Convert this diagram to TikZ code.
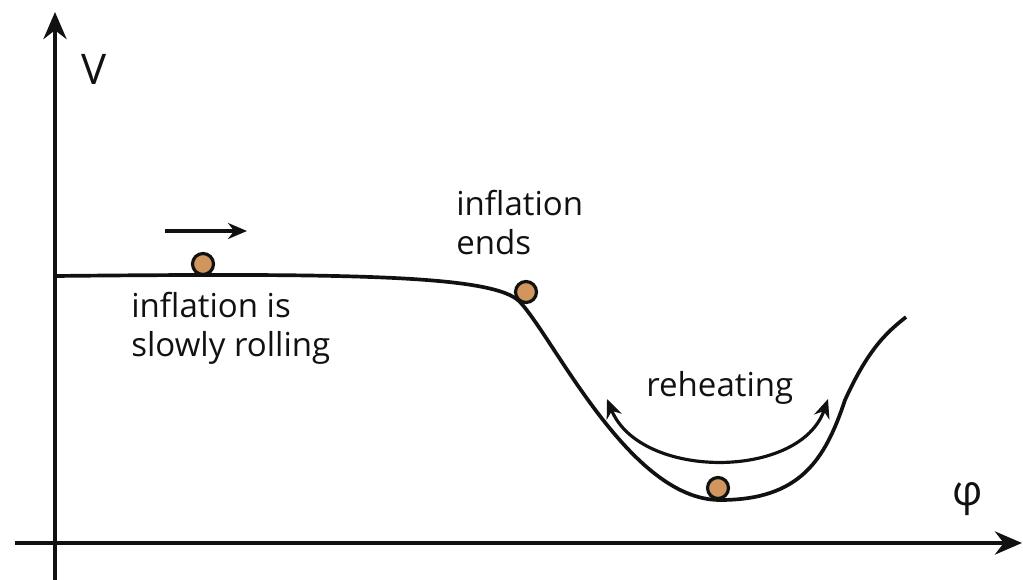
\documentclass[tikz,border=0pt]{standalone}
\usepackage{fontspec}
\setmainfont{Open Sans}
\usetikzlibrary{arrows.meta,positioning,calc}
\definecolor{cBallF}{HTML}{D0965E}
\definecolor{cInk}{HTML}{111111}
\tikzset{
  axis/.style  = {cInk, line width=2.6pt, -{Stealth[length=0.54cm, width=0.46cm]}},
  pot/.style   = {cInk, line width=2.1pt},
  tip/.tip     = {Stealth[length=0.38cm, width=0.32cm]},
  move/.style  = {cInk, line width=1.8pt, -tip},
  ball/.style  = {circle, draw=cInk, fill=cBallF, line width=1.8pt,
                  minimum size=0.42cm, inner sep=0pt},
  lbl/.style   = {text=cInk, font=\fontsize{18.8}{22.5}\selectfont, align=left,
                  inner sep=0pt},
  axlbl/.style = {text=cInk, font=\fontsize{24}{28}\selectfont, inner sep=0pt},
}

\begin{document}
\begin{tikzpicture}[x=0.02cm, y=-0.02cm]
  \useasboundingbox (0,0) rectangle (1023,580);
  % axes
  \coordinate (vlow) at (55,580);
  \coordinate (vtop) at (55,12);
  \coordinate (hleft) at (15,543);
  \coordinate (hright) at (1022,543);
  \draw[axis] (vlow) -- (vtop);
  \draw[axis] (hleft) -- (hright);
  \node[axlbl, anchor=base west] (vlab) at (81,85) {V};
  \node[axlbl, anchor=base west] (philab) at (952,505) {φ};
  % the potential
  \draw[pot] (55,276) .. controls (350,273) and (495,275) .. (520,302)
             .. controls (555,340) and (630,500) .. (720,500)
             .. controls (800,500) and (825,460) .. (845,400)
             .. controls (870,345) and (890,330) .. (906,317);
  % balls
  \node[ball] (ballA) at (203,264) {};
  \node[ball] (ballB) at (526,292) {};
  \node[ball] (ballC) at (718,488) {};
  % slow roll
  \coordinate (rollS) at (165,231);
  \coordinate (rollE) at (247,231);
  \draw[move] (rollS) -- (rollE);
  \node[lbl, anchor=base west] (slow) at (131,357) {inflation is\\slowly rolling};
  \node[lbl, anchor=base west] (ends) at (456,255) {inflation\\ends};
  % oscillation
  \coordinate (oscL) at (607,399);
  \coordinate (oscR) at (828,399);
  \draw[move, tip-tip] (oscL) .. controls (640,480) and (800,480) .. (oscR);
  \node[lbl, anchor=base west] (reheat) at (646,397) {reheating};
\end{tikzpicture}
\end{document}
